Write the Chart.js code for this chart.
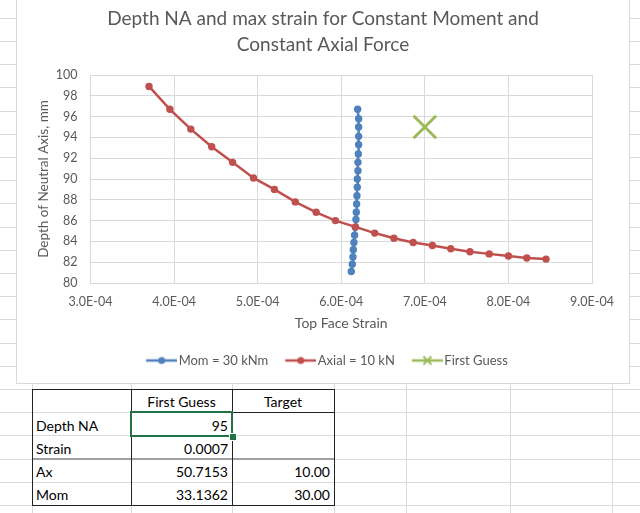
<!DOCTYPE html>
<html>
<head>
<meta charset="utf-8">
<script src="https://cdn.jsdelivr.net/npm/chart.js@4.4.1/dist/chart.umd.min.js"></script>
<style>
  html, body { margin: 0; padding: 0; background: #fff; }
  body { width: 640px; height: 513px; position: relative; overflow: hidden; font-family: Lato, "Liberation Sans", sans-serif; }
  .hl { position: absolute; left: 0; width: 640px; height: 1px; background: #dadada; }
  .vl { position: absolute; top: 0; width: 1px; height: 513px; background: #dadada; }
  #chartBox { position: absolute; left: 16px; top: -1px; width: 614px; height: 385px; box-sizing: border-box; border: 1px solid #d9d9d9; background: #fff; }
  #chartWrap { position: relative; width: 612px; height: 383px; }
  .cell { position: absolute; font-size: 14px; color: #000; white-space: nowrap; box-sizing: border-box; padding: 0 4px; }
  .line { position: absolute; }
</style>
</head>
<body>
<div id="sheet"></div>
<div id="chartBox"><div id="chartWrap"><canvas id="chart"></canvas></div></div>
<div id="table"></div>
<script>
// chart data
const seriesNames = ["Mom = 30 kNm", "Axial = 10 kN", "First Guess"];

const momStrain = [0.0006120, 0.0006132, 0.0006140, 0.0006144, 0.0006152, 0.0006160, 0.0006168,
  0.0006176, 0.0006180, 0.0006184, 0.0006188, 0.0006192, 0.0006192, 0.0006200, 0.0006200,
  0.0006204, 0.0006208, 0.0006208, 0.0006208, 0.0006208, 0.0006196];
const momDepth = [81.1, 81.8, 82.5, 83.2, 83.9, 84.6, 85.35, 86.1, 86.8, 87.6, 88.4,
  89.2, 90.0, 90.8, 91.6, 92.4, 93.3, 94.1, 95.0, 95.8, 96.7];

const axialStrain = [0.000370, 0.000395, 0.000420, 0.000445, 0.000470, 0.000495, 0.000520,
  0.000545, 0.000570, 0.000593, 0.000617, 0.000640, 0.000663, 0.000686, 0.000709,
  0.000731, 0.000754, 0.000777, 0.000800, 0.000822, 0.000845];
const axialDepth = [98.9, 96.7, 94.8, 93.1, 91.6, 90.1, 89.0, 87.8, 86.8, 86.0, 85.4,
  84.8, 84.3, 83.9, 83.6, 83.3, 83.0, 82.8, 82.6, 82.4, 82.3];

const guessStrain = [0.0007];
const guessDepth = [95];

const xTickValues = [0.0003, 0.0004, 0.0005, 0.0006, 0.0007, 0.0008, 0.0009];
const yTickValues = [80, 82, 84, 86, 88, 90, 92, 94, 96, 98, 100];

// spreadsheet table below the chart
const tableHeader = ["", "First Guess", "Target"];
const tableRows = [
  ["Depth NA", "95", ""],
  ["Strain", "0.0007", ""],
  ["Ax", "50.7153", "10.00"],
  ["Mom", "33.1362", "30.00"]
];

const BLUE = "#4F81BD";
const RED = "#C0504D";
const GREEN = "#9BBB59";
const GREY_TEXT = "#595959";
const GRID = "#d9d9d9";

// sheet gridlines
const sheet = document.getElementById("sheet");
for (let k = 0; k < 22; k++) {
  const d = document.createElement("div");
  d.className = "hl";
  d.style.top = Math.round(17.8 + k * 23.2) + "px";
  sheet.appendChild(d);
}
[32, 131, 232, 334, 406, 510, 612].forEach(x => {
  const d = document.createElement("div");
  d.className = "vl";
  d.style.left = x + "px";
  sheet.appendChild(d);
});

// table
const tbl = document.getElementById("table");
const colX = [32, 131, 232, 334];
const rowY = [389, 412, 436, 459, 482, 505];

function addLine(left, top, width, height, color) {
  const d = document.createElement("div");
  d.className = "line";
  d.style.left = left + "px";
  d.style.top = top + "px";
  d.style.width = width + "px";
  d.style.height = height + "px";
  d.style.background = color;
  tbl.appendChild(d);
}

function addCell(text, r, c, align) {
  if (!text) return;
  const d = document.createElement("div");
  d.className = "cell";
  d.textContent = text;
  d.style.left = colX[c] + "px";
  d.style.width = (colX[c + 1] - colX[c]) + "px";
  d.style.top = rowY[r] + "px";
  const h = rowY[r + 1] - rowY[r];
  d.style.height = h + "px";
  d.style.lineHeight = (h + 3) + "px";
  d.style.textAlign = align;
  tbl.appendChild(d);
}

tableHeader.forEach((t, c) => addCell(t, 0, c, "center"));
tableRows.forEach((row, r) => {
  row.forEach((t, c) => addCell(t, r + 1, c, c === 0 ? "left" : "right"));
});

// borders
addLine(131, 412, 204, 1, "#222");
addLine(32, 458, 303, 2, "#a0a0a0");
addLine(32, 389, 303, 1, "#222");
addLine(32, 505, 303, 1, "#222");
addLine(32, 389, 1, 117, "#222");
addLine(131, 389, 1, 117, "#222");
addLine(232, 389, 1, 117, "#222");
addLine(334, 389, 1, 117, "#222");
// selected cell
const sel = document.createElement("div");
sel.style.cssText = "position:absolute;left:130px;top:411px;width:103px;height:26px;box-sizing:border-box;border:2px solid #217346;";
tbl.appendChild(sel);
const handle = document.createElement("div");
handle.style.cssText = "position:absolute;left:229px;top:433px;width:6px;height:6px;background:#217346;border:1px solid #fff;box-sizing:content-box;";
tbl.appendChild(handle);

// legend symbols: line with marker, like Excel
function legendIcon(color, marker) {
  const c = document.createElement("canvas");
  c.width = 44;
  c.height = 12;
  const g = c.getContext("2d");
  g.strokeStyle = color;
  g.lineWidth = 2.5;
  g.beginPath();
  g.moveTo(13, 6);
  g.lineTo(44, 6);
  g.stroke();
  if (marker === "circle") {
    g.fillStyle = color;
    g.beginPath();
    g.arc(28.5, 6, 3.5, 0, Math.PI * 2);
    g.fill();
  } else {
    g.lineWidth = 2;
    g.beginPath();
    g.moveTo(24.5, 2); g.lineTo(32.5, 10);
    g.moveTo(32.5, 2); g.lineTo(24.5, 10);
    g.stroke();
  }
  return c;
}
const icons = [legendIcon(BLUE, "circle"), legendIcon(RED, "circle"), legendIcon(GREEN, "x")];

function sciLabel(v) {
  const parts = Number(v).toExponential(1).split("e");
  const n = parseInt(parts[1], 10);
  return parts[0] + "E" + (n < 0 ? "-" : "+") + String(Math.abs(n)).padStart(2, "0");
}

function toPoints(xs, ys) {
  return xs.map((x, i) => ({ x: x, y: ys[i] }));
}

Chart.defaults.font.family = "Lato, 'Liberation Sans', sans-serif";

const ctx = document.getElementById("chart").getContext("2d");
new Chart(ctx, {
  type: "scatter",
  data: {
    datasets: [
      {
        label: seriesNames[0],
        data: toPoints(momStrain, momDepth),
        showLine: true,
        borderColor: BLUE,
        backgroundColor: BLUE,
        borderWidth: 2.5,
        pointRadius: 3.7,
        pointBorderWidth: 0,
        order: 3,
      },
      {
        label: seriesNames[1],
        data: toPoints(axialStrain, axialDepth),
        showLine: true,
        borderColor: RED,
        backgroundColor: RED,
        borderWidth: 2.5,
        pointRadius: 3.7,
        pointBorderWidth: 0,
        order: 2,
      },
      {
        label: seriesNames[2],
        data: toPoints(guessStrain, guessDepth),
        showLine: false,
        borderColor: GREEN,
        backgroundColor: GREEN,
        pointStyle: "crossRot",
        pointRadius: 16,
        pointBorderWidth: 3,
        order: 1,
      },
    ],
  },
  options: {
    responsive: true,
    maintainAspectRatio: false,
    animation: false,
    devicePixelRatio: 1,
    events: [],
    layout: { padding: { left: 0, right: 0, top: 0, bottom: 6 } },
    plugins: {
      title: {
        display: true,
        text: ["Depth NA and max strain for Constant Moment and", "Constant Axial Force"],
        color: GREY_TEXT,
        font: { size: 19, weight: "normal", lineHeight: 26 / 19 },
        padding: { top: 6, bottom: 17 },
      },
      legend: {
        position: "bottom",
        labels: {
          usePointStyle: true,
          pointStyleWidth: 34,
          boxHeight: 12,
          padding: 9,
          color: GREY_TEXT,
          font: { size: 13 },
          generateLabels: (chart) =>
            chart.data.datasets.map((ds, i) => ({
              text: ds.label,
              pointStyle: icons[i],
              fillStyle: "transparent",
              strokeStyle: "transparent",
              lineWidth: 0,
              fontColor: GREY_TEXT,
              hidden: false,
              datasetIndex: i,
            })),
        },
      },
      tooltip: { enabled: false },
    },
    scales: {
      x: {
        type: "linear",
        min: xTickValues[0],
        max: xTickValues[xTickValues.length - 1],
        afterBuildTicks: (s) => { s.ticks = xTickValues.map((v) => ({ value: v })); },
        afterFit: (s) => { s.height = 62; },
        grid: { color: GRID, drawTicks: false },
        border: { color: GRID },
        ticks: { color: GREY_TEXT, font: { size: 12.5 }, padding: 11, autoSkip: false, maxRotation: 0, callback: (v) => sciLabel(v) },
        title: { display: true, text: "Top Face Strain", color: GREY_TEXT, font: { size: 14 }, padding: { top: 0, bottom: 13 } },
      },
      y: {
        type: "linear",
        position: "left",
        min: yTickValues[0],
        max: yTickValues[yTickValues.length - 1],
        afterBuildTicks: (s) => { s.ticks = yTickValues.map((v) => ({ value: v })); },
        afterFit: (s) => { s.width = 73.5; },
        grid: { color: GRID, drawTicks: false },
        border: { color: GRID },
        ticks: { color: GREY_TEXT, font: { size: 12.5 }, padding: 13 },
        title: { display: true, text: "Depth of Neutral Axis, mm", color: GREY_TEXT, font: { size: 13.5 }, padding: { top: 19, bottom: 0 } },
      },
      yRight: {
        type: "linear",
        position: "right",
        display: true,
        afterFit: (s) => { s.width = 37; },
        grid: { drawOnChartArea: false, drawTicks: false },
        border: { display: false },
        ticks: { display: false },
      },
    },
  },
});
</script>
</body>
</html>
